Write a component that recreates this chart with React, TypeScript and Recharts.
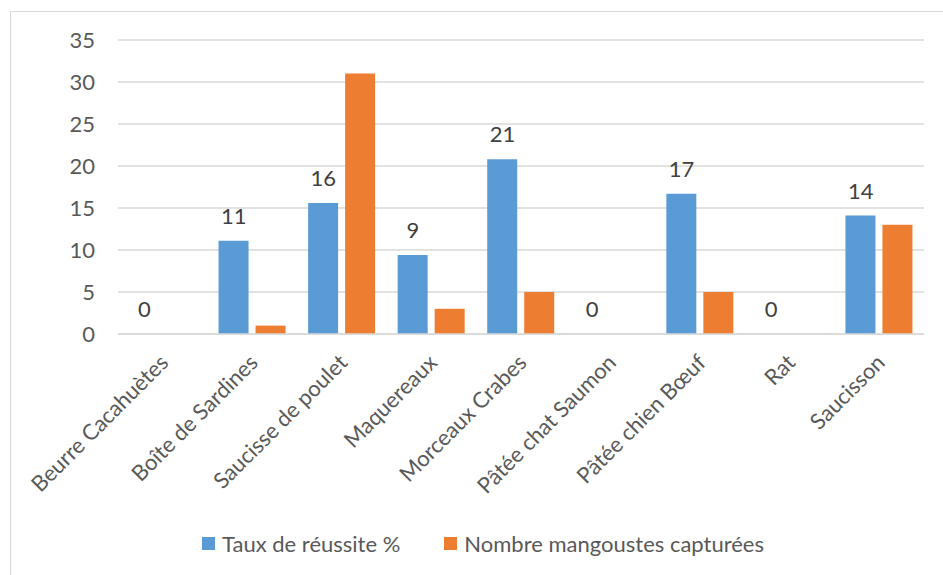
import React from 'react';
import {
  ComposedChart, Bar, Line, XAxis, YAxis, CartesianGrid, LabelList, Legend,
} from 'recharts';

const appats = [
  'Beurre Cacahuètes', 'Boîte de Sardines', 'Saucisse de poulet', 'Maquereaux',
  'Morceaux Crabes', 'Pâtée chat Saumon', 'Pâtée chien Bœuf', 'Rat', 'Saucisson',
];
const tauxReussite = [0, 11.1, 15.6, 9.4, 20.8, 0, 16.7, 0, 14.1];
const mangoustesCapturees = [0, 1, 31, 3, 5, 0, 5, 0, 13];
const yTicks = [0, 5, 10, 15, 20, 25, 30, 35];

const BLUE = '#5B9BD5';
const ORANGE = '#ED7D31';
const FONT = 'Lato, "Noto Sans", sans-serif';
const FS = 22;
const BAR_SIZE = 30;
const BAR_GAP = 7;

const data = appats.map((nom, i) => ({
  nom,
  taux: tauxReussite[i],
  captures: mangoustesCapturees[i],
}));

const CategoryTick = ({ x, y, payload }: any) => (
  <text
    x={x + 7}
    y={y + 22}
    transform={`rotate(-45, ${x + 7}, ${y + 22})`}
    textAnchor="end"
    fill="#595959"
    fontSize={FS}
    fontFamily={FONT}
  >
    {payload.value}
  </text>
);

// value labels sit over the blue (left) bar of each pair, zeros included
const TauxLabel = (props: any) => {
  const vb = props.viewBox || {};
  const x = (vb.x ?? props.x) - (BAR_SIZE + BAR_GAP) / 2;
  const y = (vb.y ?? props.y) - 17;
  return (
    <text x={x} y={y} textAnchor="middle" fill="#404040" fontSize={FS} fontFamily={FONT}>
      {Math.round(Number(props.value))}
    </text>
  );
};

const LegendBox = () => (
  <div
    style={{
      height: 55, paddingBottom: 8, boxSizing: 'border-box', display: 'flex',
      alignItems: 'center', paddingLeft: 202, fontFamily: FONT, fontSize: FS, color: '#595959',
    }}
  >
    <span style={{ width: 13, height: 13, background: BLUE, marginRight: 7 }} />
    <span style={{ marginRight: 44 }}>Taux de réussite %</span>
    <span style={{ width: 13, height: 13, background: ORANGE, marginRight: 7 }} />
    <span>Nombre mangoustes capturées</span>
  </div>
);

export default function App() {
  return (
    <div style={{ position: 'absolute', left: 0, top: 0, width: 943, height: 575, overflow: 'hidden', background: '#fff' }}>
      <div
        style={{
          position: 'absolute', left: 10, top: 11, width: 960, height: 600,
          border: '1px solid #D9D9D9', boxSizing: 'border-box',
        }}
      />
      <ComposedChart
        width={943}
        height={575}
        data={data}
        margin={{ top: 40, right: 19, bottom: 0, left: 0 }}
        barGap={BAR_GAP}
        barSize={BAR_SIZE}
        style={{ position: 'absolute', left: 0, top: 0 }}
      >
        <CartesianGrid vertical={false} stroke="#D9D9D9" strokeWidth={1.5} />
        <XAxis
          dataKey="nom"
          height={186}
          interval={0}
          tick={<CategoryTick />}
          tickLine={false}
          axisLine={{ stroke: '#D9D9D9', strokeWidth: 1.5 }}
        />
        <YAxis
          width={118}
          domain={[0, 35]}
          ticks={yTicks}
          tickLine={false}
          axisLine={false}
          tickSize={0}
          tickMargin={23}
          tick={{ fill: '#595959', fontSize: FS, fontFamily: FONT }}
        />
        <Legend verticalAlign="bottom" content={<LegendBox />} />
        <Bar dataKey="taux" name="Taux de réussite %" fill={BLUE} isAnimationActive={false} />
        <Bar dataKey="captures" name="Nombre mangoustes capturées" fill={ORANGE} isAnimationActive={false} />
        {/* invisible carrier for the taux labels */}
        <Line
          dataKey="taux"
          stroke="none"
          dot={false}
          activeDot={false}
          legendType="none"
          isAnimationActive={false}
        >
          <LabelList dataKey="taux" content={<TauxLabel />} />
        </Line>
      </ComposedChart>
    </div>
  );
}
